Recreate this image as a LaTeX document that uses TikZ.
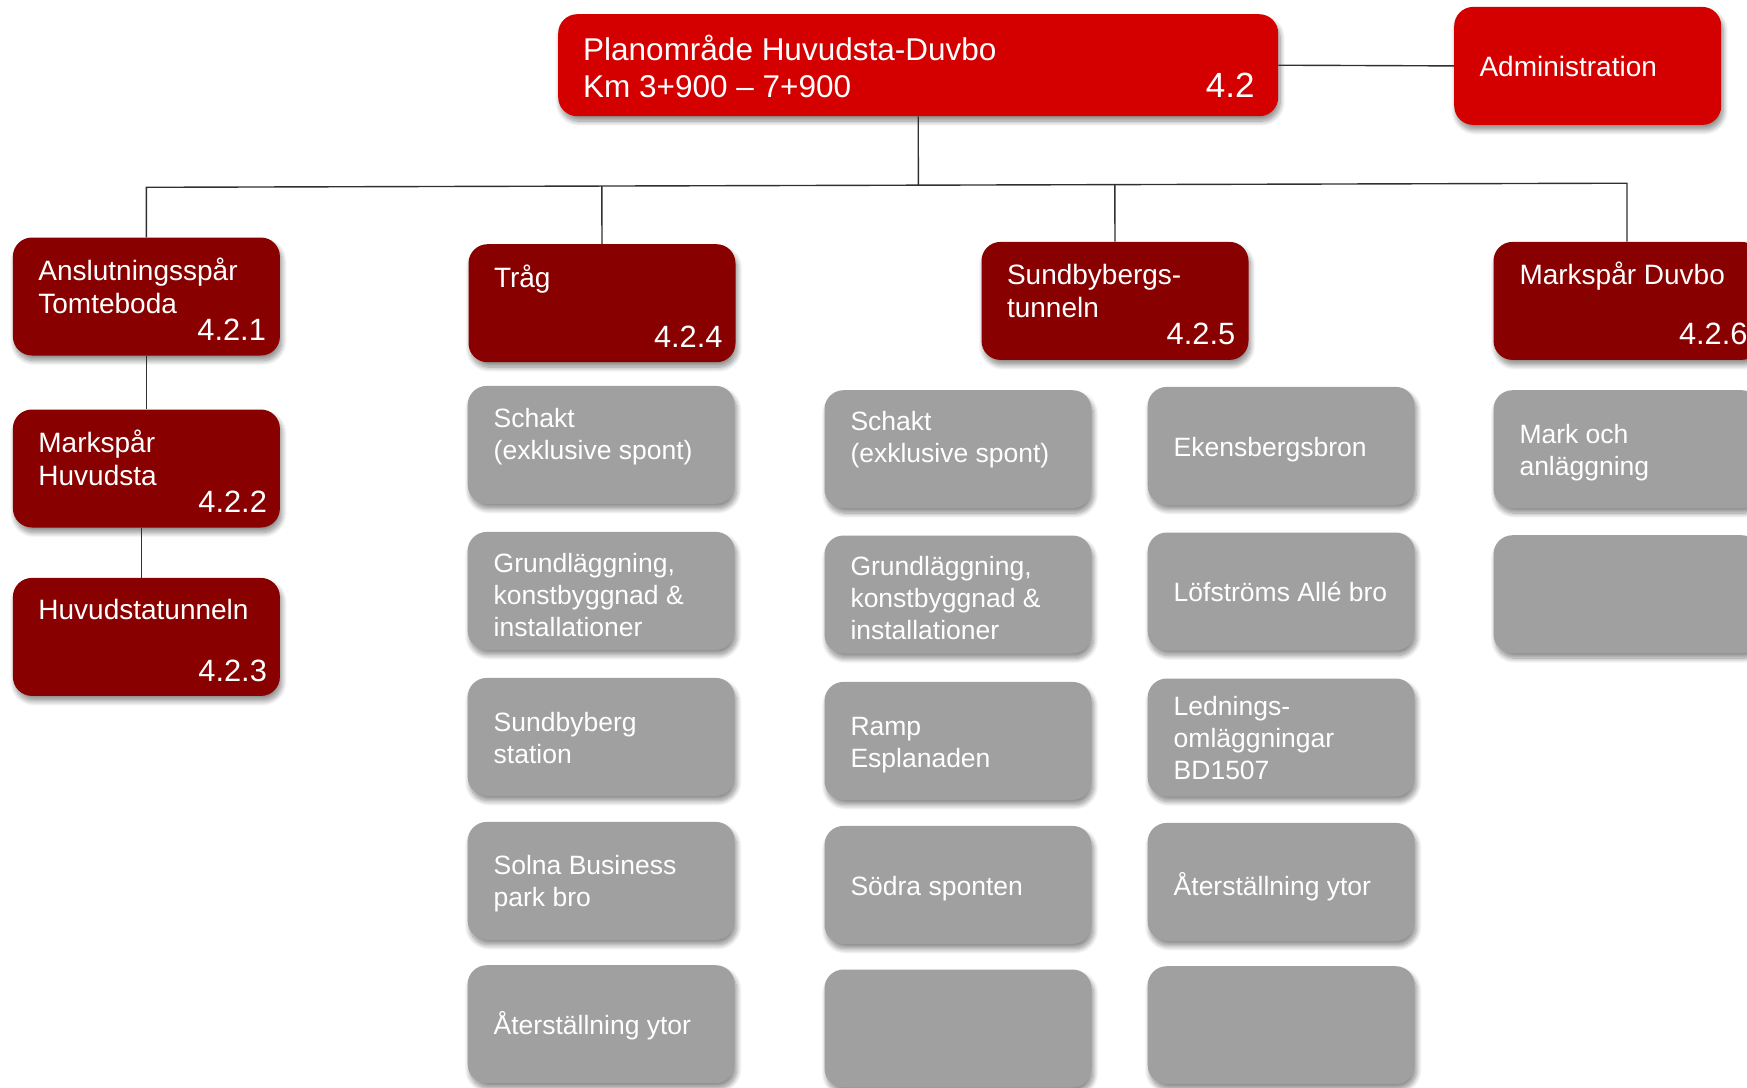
\documentclass[tikz,border=0pt]{standalone}
\usepackage{fontspec}
\setmainfont{Liberation Sans}
\usetikzlibrary{calc,shadows.blur}
\definecolor{topred}{HTML}{D40000}
\definecolor{darkred}{HTML}{880000}
\definecolor{boxgray}{HTML}{A0A0A0}
\definecolor{linecol}{HTML}{303030}
\newcommand\mlines[1]{\begin{tabular}[t]{@{}l@{}}#1\end{tabular}}
\tikzset{
  cardbox/.style={anchor=north west, rounded corners=19pt, inner sep=0pt,
    minimum width=267pt, minimum height=118pt,
    blur shadow={shadow xshift=2pt, shadow yshift=-5pt, shadow blur radius=5pt, shadow blur steps=10, shadow opacity=45}},
  topbox/.style={cardbox, fill=topred},
  lvbox/.style={cardbox, fill=darkred},
  graybox/.style={cardbox, fill=boxgray},
  wtxt/.style={inner sep=0pt, anchor=base west, text=white},
  toptxt/.style={wtxt, font=\fontsize{31.5}{37.7}\selectfont},
  topnum/.style={inner sep=0pt, anchor=base east, text=white, font=\fontsize{35}{40}\selectfont},
  lvtxt/.style={wtxt, font=\fontsize{28}{33.5}\selectfont},
  lvnum/.style={inner sep=0pt, anchor=base east, text=white, font=\fontsize{30.8}{34}\selectfont},
  gtxt/.style={wtxt, font=\fontsize{26.5}{32.2}\selectfont},
  link/.style={draw=linecol, line width=1.4pt}
}
\begin{document}
\begin{tikzpicture}[x=1pt,y=-1pt]
\useasboundingbox (0,0) rectangle (1747,1087);
\clip (0,0) rectangle (1747,1087);

% top level
\node[topbox, minimum width=720pt, minimum height=102pt] (top) at (558,14) {};
\node[toptxt] (topT) at ($(top.north west)+(25,46)$) {\mlines{Planområde Huvudsta-Duvbo\\Km 3+900 – 7+900}};
\node[topnum] (topN) at ($(top.north east)+(-23.6,83)$) {4.2};

\node[topbox] (admin) at (1454,6.7) {};
\node[toptxt, font=\fontsize{28}{33.5}\selectfont] (adminT) at ($(admin.north west)+(25.3,70)$) {Administration};

% level 2
\node[lvbox] (n421) at (12.7,237.3) {};
\node[lvtxt] (n421T) at ($(n421.north west)+(25.5,42.7)$) {\mlines{Anslutningsspår\\Tomteboda}};
\node[lvnum] (n421N) at ($(n421.north east)+(-14,103)$) {4.2.1};

\node[lvbox] (n422) at (12.7,409.3) {};
\node[lvtxt] (n422T) at ($(n422.north west)+(25.5,42.7)$) {\mlines{Markspår\\Huvudsta}};
\node[lvnum] (n422N) at ($(n422.north east)+(-13,103.5)$) {4.2.2};

\node[lvbox] (n423) at (12.7,577.7) {};
\node[lvtxt] (n423T) at ($(n423.north west)+(25.5,42)$) {Huvudstatunneln};
\node[lvnum] (n423N) at ($(n423.north east)+(-13,103.5)$) {4.2.3};

\node[lvbox] (n424) at (468.3,244) {};
\node[lvtxt] (n424T) at ($(n424.north west)+(25.5,43)$) {Tråg};
\node[lvnum] (n424N) at ($(n424.north east)+(-13,103.3)$) {4.2.4};

\node[lvbox] (n425) at (981.3,241.7) {};
\node[lvtxt] (n425T) at ($(n425.north west)+(25.5,42.7)$) {\mlines{Sundbybergs-\\tunneln}};
\node[lvnum] (n425N) at ($(n425.north east)+(-13.3,103)$) {4.2.5};

\node[lvbox] (n426) at (1493.3,241.7) {};
\node[lvtxt] (n426T) at ($(n426.north west)+(26,43)$) {Markspår Duvbo};
\node[lvnum] (n426N) at ($(n426.north east)+(-13,103)$) {4.2.6};

% column 1 (Tråg)
\node[graybox] (a1) at (467.5,385.7) {};
\node[gtxt] (a1T) at ($(a1.north west)+(26,41.8)$) {\mlines{Schakt\\(exklusive spont)}};
\node[graybox] (a2) at (467.5,531.7) {};
\node[gtxt] (a2T) at ($(a2.north west)+(26,40.6)$) {\mlines{Grundläggning,\\konstbyggnad \&\\installationer}};
\node[graybox] (a3) at (467.5,677.7) {};
\node[gtxt] (a3T) at ($(a3.north west)+(26,53.5)$) {\mlines{Sundbyberg\\station}};
\node[graybox] (a4) at (467.5,821.7) {};
\node[gtxt] (a4T) at ($(a4.north west)+(26,53)$) {\mlines{Solna Business\\park bro}};
\node[graybox] (a5) at (467.5,965) {};
\node[gtxt] (a5T) at ($(a5.north west)+(26,69.5)$) {Återställning ytor};

% column 2
\node[graybox] (b1) at (824.3,390) {};
\node[gtxt] (b1T) at ($(b1.north west)+(26,40.6)$) {\mlines{Schakt\\(exklusive spont)}};
\node[graybox] (b2) at (824.3,535.3) {};
\node[gtxt] (b2T) at ($(b2.north west)+(26,40.2)$) {\mlines{Grundläggning,\\konstbyggnad \&\\installationer}};
\node[graybox] (b3) at (824.3,681.7) {};
\node[gtxt] (b3T) at ($(b3.north west)+(26,53.6)$) {\mlines{Ramp\\Esplanaden}};
\node[graybox] (b4) at (824.3,825.7) {};
\node[gtxt] (b4T) at ($(b4.north west)+(26,70)$) {Södra sponten};
\node[graybox] (b5) at (824.3,969.3) {};

% column 3
\node[graybox] (c1) at (1147.5,386.7) {};
\node[gtxt] (c1T) at ($(c1.north west)+(26,69.8)$) {Ekensbergsbron};
\node[graybox] (c2) at (1147.5,532.3) {};
\node[gtxt] (c2T) at ($(c2.north west)+(26,69.2)$) {Löfströms Allé bro};
\node[graybox] (c3) at (1147.5,678.3) {};
\node[gtxt] (c3T) at ($(c3.north west)+(26,37.2)$) {\mlines{Lednings-\\omläggningar\\BD1507}};
\node[graybox] (c4) at (1147.5,822.7) {};
\node[gtxt] (c4T) at ($(c4.north west)+(26,73)$) {Återställning ytor};
\node[graybox] (c5) at (1147.5,966) {};

% column 4
\node[graybox] (d1) at (1493.3,390) {};
\node[gtxt] (d1T) at ($(d1.north west)+(26,53)$) {\mlines{Mark och\\anläggning}};
\node[graybox] (d2) at (1493.3,535) {};

% connectors
\coordinate (busL) at ($(n421.north)+(0,-50)$);
\coordinate (busR) at ($(n426.north)+(0,-58.5)$);
\draw[link] (n421.north) -- (busL) -- (busR) -- (n426.north);
\draw[link] (top.south) -- ($(busL)!(top.south)!(busR)$);
\draw[link] (n424.north) -- ($(busL)!(n424.north)!(busR)$);
\draw[link] (n425.north) -- ($(busL)!(n425.north)!(busR)$);
\draw[link] (top.east) -- (admin.west);
\draw[link] (n421.south) -- (n422.north);
\draw[link] ($(n422.south)+(-5,0)$) -- ($(n423.north)+(-5,0)$);
\end{tikzpicture}
\end{document}
